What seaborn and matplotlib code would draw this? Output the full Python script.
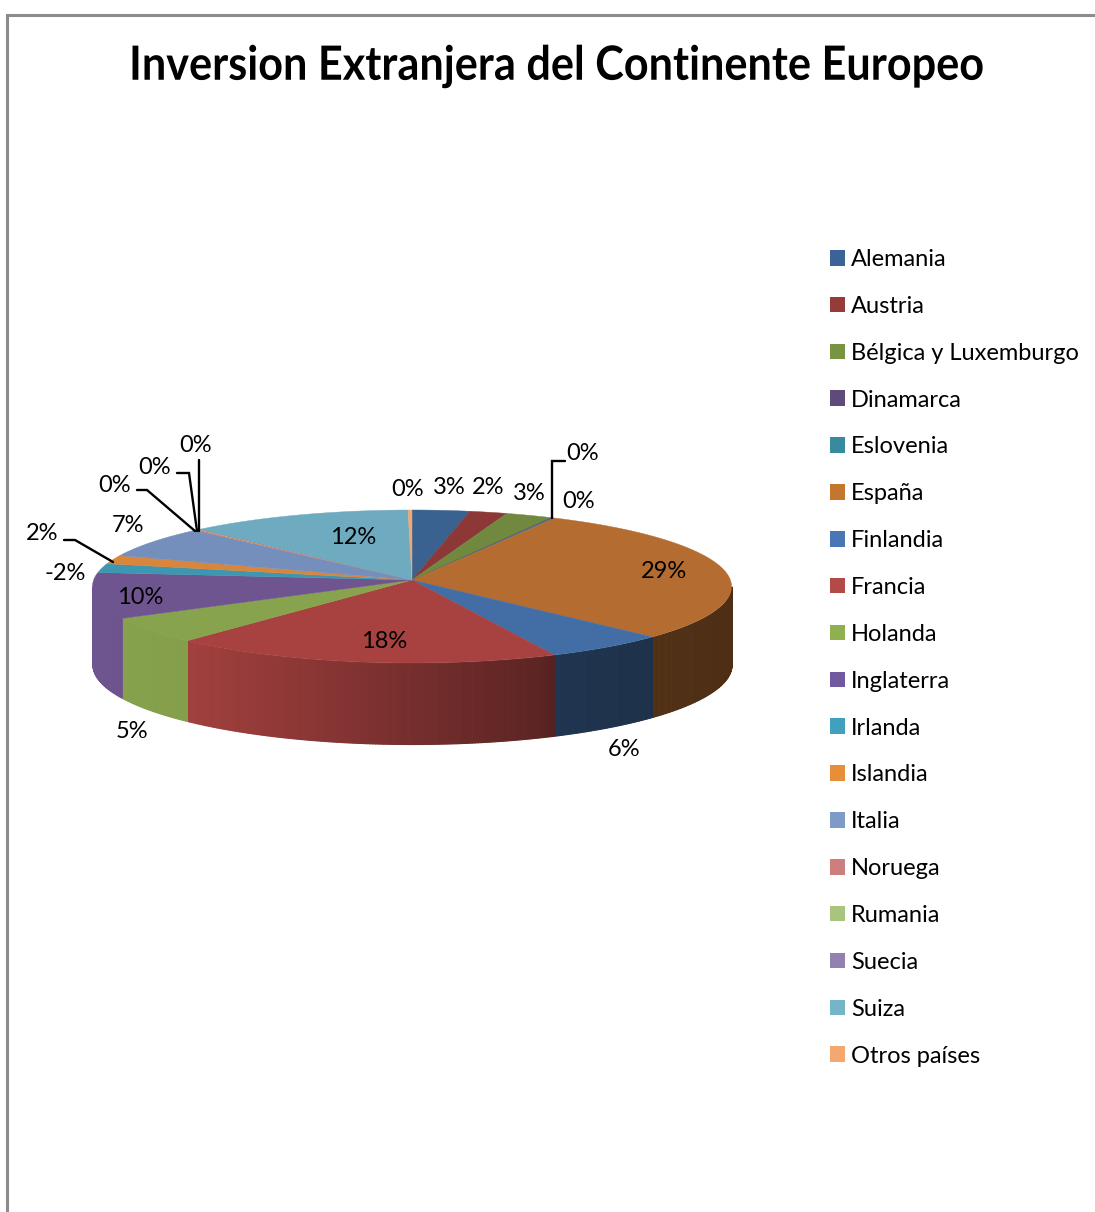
import numpy as np
import matplotlib
matplotlib.use("Agg")
import matplotlib.pyplot as plt
from matplotlib.patches import Patch
from matplotlib.patheffects import AbstractPathEffect
from matplotlib.transforms import Affine2D
import seaborn as sns

countries = ["Alemania", "Austria", "Bélgica y Luxemburgo", "Dinamarca", "Eslovenia", "España",
             "Finlandia", "Francia", "Holanda", "Inglaterra", "Irlanda", "Islandia", "Italia",
             "Noruega", "Rumania", "Suecia", "Suiza", "Otros países"]
# shares, the negative one is drawn by its size
shares = [2.9, 1.9, 2.4, 0.1, 0.1, 29.1, 6.2, 19.8, 5.7, 9.8, -1.9, 1.8, 6.5, 0.2, 0.1, 0.1, 11.3, 0.2]
pct_labels = ["3%", "2%", "3%", "0%", "0%", "29%", "6%", "18%", "5%", "10%", "-2%", "2%", "7%",
              "0%", "0%", "0%", "12%", "0%"]
top_colors = ["#3a6290", "#8c3836", "#71893f", "#5c4776", "#357d91", "#b46c31", "#426da5", "#a74240",
              "#88a34d", "#6f5590", "#3e97b1", "#d9853b", "#758fbc", "#c77c7a", "#a7c17c", "#927fab",
              "#6fabc0", "#f0a875"]
legend_colors = ["#3a6397", "#953b39", "#779443", "#604a7b", "#388a9e", "#c4762f", "#4a76b5", "#b34a47",
                 "#8fb04f", "#71589f", "#41a0bd", "#e98e38", "#7e9bc8", "#ce7f7d", "#a9c47f", "#9480b0",
                 "#76b4c8", "#f4a870"]

# layout in pixels of the picture
cx, rx = 412, 319.5
cy, ry = 586.5, 76.5
apex_y = 580
label_pos = [(449, 487), (488, 487), (529, 494), (583, 454), (579, 501), (664, 572), (624, 750),
             (384, 641), (132, 732), (140, 598), (65, 574), (42, 533), (128, 526), (115, 485),
             (155, 467), (196, 446), (353, 537), (408, 490)]
leaders = [[(552, 518), (552, 461), (565, 461)],
           [(64, 540), (75, 540), (113, 562)],
           [(137, 490), (147, 490), (195, 531)],
           [(177, 473), (189, 473), (197, 531)],
           [(199, 460), (199, 531)]]

sns.set_theme(style="white")
plt.rcParams["font.family"] = ["Lato", "DejaVu Sans"]

fig = plt.figure(figsize=(10.95, 12.12), dpi=100)
ax = fig.add_axes([0, 0, 1, 1])
ax.set_xlim(0, 1095)
ax.set_ylim(1212, 0)
ax.axis("off")


class Squeeze(AbstractPathEffect):
    # no condensed font here, so narrow the title around its centre
    def __init__(self, center, factor):
        super().__init__()
        self.squeeze = Affine2D().translate(-center, 0).scale(factor, 1).translate(center, 0)

    def draw_path(self, renderer, gc, tpath, affine, rgbFace=None):
        renderer.draw_path(gc, tpath, affine + self.squeeze, rgbFace)


def rim(theta):
    t = np.radians(theta)
    return cx + rx * np.sin(t), cy - ry * np.cos(t)


def depth(theta):
    return 78 - 3 * np.cos(np.radians(theta))


def shade(x):
    return np.interp(x, [92, 188, 540, 560, 732], [1, 0.97, 0.55, 0.48, 0.43])


sizes = np.abs(shares)
edges = np.concatenate([[0], np.cumsum(sizes)]) / sizes.sum() * 360

# side wall, strip by strip so that it can darken to the right
for i, color in enumerate(top_colors):
    a, b = max(edges[i], 90), min(edges[i + 1], 270)
    if b <= a:
        continue
    rgb = np.array(matplotlib.colors.to_rgb(color))
    steps = np.linspace(a, b, max(2, int((b - a) * 2) + 1))
    for t0, t1 in zip(steps[:-1], steps[1:]):
        x0, y0 = rim(t0)
        x1, y1 = rim(t1)
        c = rgb * shade((x0 + x1) / 2)
        ax.fill_between([x0, x1], [y0, y1], [y0 + depth(t0), y1 + depth(t1)], color=c, lw=0.8,
                        antialiased=False)

# top face
for i, color in enumerate(top_colors):
    theta = np.linspace(edges[i], edges[i + 1], max(2, int(edges[i + 1] - edges[i]) * 2 + 2))
    x, y = rim(theta)
    ax.fill(np.r_[cx, x], np.r_[apex_y, y], color=color, lw=0.3)

for pts in leaders:
    ax.plot(*zip(*pts), color="black", lw=1.7, solid_joinstyle="miter")

for text, (x, y) in zip(pct_labels, label_pos):
    ax.text(x, y, text, fontsize=17, color="black", ha="center", va="center")

handles = [Patch(facecolor=c, edgecolor="none") for c in legend_colors]
ax.legend(handles, countries, loc="upper left", bbox_to_anchor=(830 / 1095, 1 - 249 / 1212),
          frameon=False, fontsize=17, handlelength=0.64, handleheight=0.64, handletextpad=0.25,
          labelspacing=1.095, borderpad=0, borderaxespad=0, labelcolor="black")

ax.text(557, 66, "Inversion Extranjera del Continente Europeo", fontsize=34, fontweight="bold",
        color="black", ha="center", va="center", path_effects=[Squeeze(557, 0.915)])

# chart frame, cut off by the picture at the right and bottom
ax.plot([7, 7, 1095], [1212, 14.5, 14.5], color="#8c8c8c", lw=2.2, solid_joinstyle="miter")

fig.savefig("out.png", dpi=100)
